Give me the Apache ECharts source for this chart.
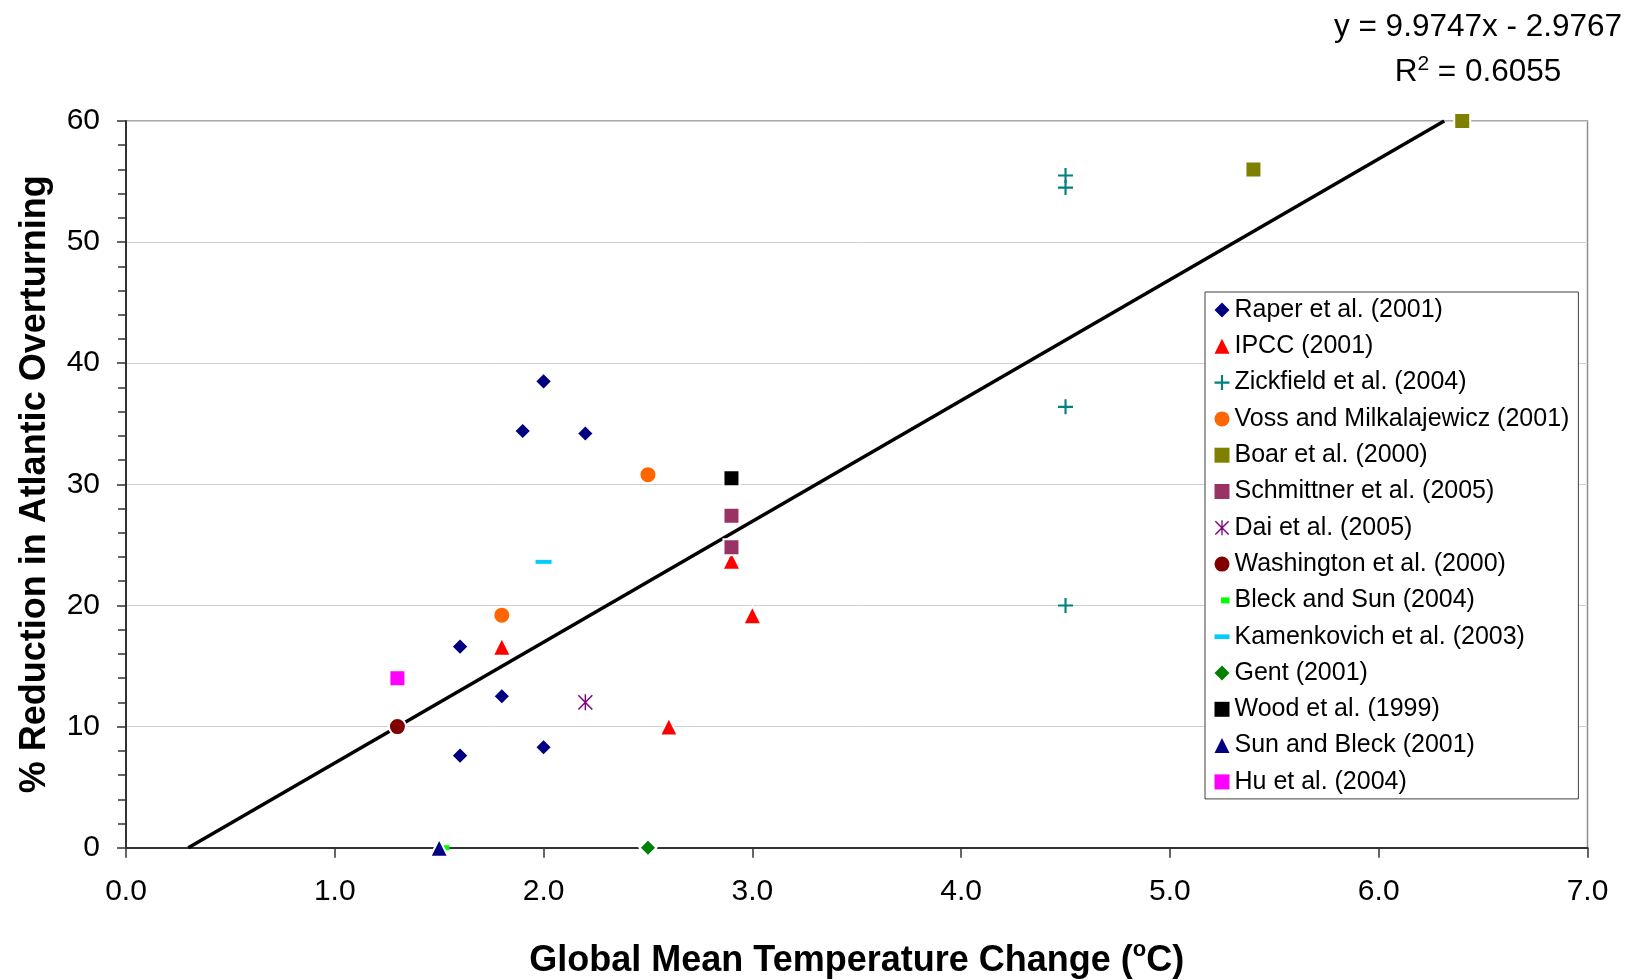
<!DOCTYPE html>
<html>
<head>
<meta charset="utf-8">
<title>Atlantic overturning reduction vs. global warming</title>
<script src="https://cdn.jsdelivr.net/npm/echarts@6/dist/echarts.min.js"></script>
<style>
  html, body { margin: 0; padding: 0; background: #ffffff; }
  #chart { width: 1629px; height: 980px; }
</style>
</head>
<body>
<div id="chart"></div>
<script>
// Axis ranges
const X_MIN = 0, X_MAX = 7, X_STEP = 1;
const Y_MIN = 0, Y_MAX = 60, Y_STEP = 10;

// Study results: [global mean warming (°C), % reduction of overturning]
const raper       = [[1.6, 16.6], [1.9, 34.4], [2.0, 38.5], [2.2, 34.2], [1.8, 12.5], [1.6, 7.6], [2.0, 8.3]];
const ipcc        = [[1.8, 16.6], [2.9, 23.7], [3.0, 19.2], [2.6, 10.0]];
const zickfield   = [[4.5, 55.5], [4.5, 54.5], [4.5, 36.4], [4.5, 20.0]];
const voss        = [[2.5, 30.8], [1.8, 19.2]];
const boar        = [[5.4, 56.0], [6.4, 60.0]];
const schmittner  = [[2.9, 27.4], [2.9, 24.8]];
const dai         = [[2.2, 12.0]];
const washington  = [[1.3, 10.0]];
const bleckSun    = [[1.53, 0]];
const kamenkovich = [[2.0, 23.6]];
const gent        = [[2.5, 0]];
const wood        = [[2.9, 30.5]];
const sunBleck    = [[1.5, 0]];
const hu          = [[1.3, 14.0]];

// Linear fit through all studies
const trendSlope = 9.9747;
const trendIntercept = -2.9767;
const trendR2 = '0.6055';

const FONT = '"Liberation Sans", Arial, Helvetica, sans-serif';

// Marker shapes
const PLUS = 'path://M6,0H8V14H6Z M0,6H14V8H0Z';
const ASTERISK = 'path://M9.2,1H10.8V19H9.2Z M2.6,1.4L18.6,17.4L17.4,18.6L1.4,2.6Z M17.4,1.4L18.6,2.6L2.6,18.6L1.4,17.4Z';
const SHORT_DASH_ICON = 'path://M0,0M16,16M7,4.8H16V11.2H7Z';
const LONG_DASH_ICON = 'path://M0,0M16,16M0,5.5H16V10.5H0Z';

function scatter(name, data, symbol, size, color, halo) {
  return {
    name: name,
    type: 'scatter',
    data: data,
    symbol: symbol,
    symbolSize: size,
    clip: false,
    z: 3,
    itemStyle: halo
      ? { color: color, opacity: 1, borderColor: '#ffffff', borderWidth: 2 }
      : { color: color, opacity: 1, borderWidth: 0 },
    emphasis: { disabled: true }
  };
}

const studySeries = [
  scatter('Raper et al. (2001)',              raper,       'diamond',  17, '#000080', true),
  scatter('IPCC (2001)',                      ipcc,        'triangle', 18, '#ff0000', true),
  scatter('Zickfield et al. (2004)',          zickfield,   PLUS,       15, '#008080', false),
  scatter('Voss and Milkalajewicz (2001)',    voss,        'circle',   17, '#ff6600', true),
  scatter('Boar et al. (2000)',               boar,        'rect',     16, '#808000', true),
  scatter('Schmittner et al. (2005)',         schmittner,  'rect',     16, '#993366', true),
  scatter('Dai et al. (2005)',                dai,         ASTERISK,   [15, 16], '#800080', false),
  scatter('Washington et al. (2000)',         washington,  'circle',   17, '#800000', true),
  scatter('Bleck and Sun (2004)',             bleckSun,    'rect',     [8, 5], '#00ff00', false),
  scatter('Kamenkovich et al. (2003)',        kamenkovich, 'rect',     [16, 4], '#00ccff', false),
  scatter('Gent (2001)',                      gent,        'diamond',  17, '#008000', true),
  scatter('Wood et al. (1999)',               wood,        'rect',     16, '#000000', true),
  scatter('Sun and Bleck (2001)',             sunBleck,    'triangle', 18, '#000080', true),
  scatter('Hu et al. (2004)',                 hu,          'rect',     16, '#ff00ff', true)
];

const legendIcons = {
  'Bleck and Sun (2004)': SHORT_DASH_ICON,
  'Kamenkovich et al. (2003)': LONG_DASH_ICON
};

// Fitted line, clipped to the visible value range
const trendLine = [
  [(Y_MIN - trendIntercept) / trendSlope, Y_MIN],
  [(Y_MAX - trendIntercept) / trendSlope, Y_MAX]
];

const fitText = 'y = ' + trendSlope.toFixed(4) + 'x - ' + Math.abs(trendIntercept).toFixed(4);

const chart = echarts.init(document.getElementById('chart'), null, { renderer: 'canvas' });

chart.setOption({
  animation: false,
  backgroundColor: '#ffffff',
  textStyle: { fontFamily: FONT },
  grid: {
    left: 126, right: 41.5, top: 121, bottom: 132.3,
    show: true,
    borderColor: '#8c8c8c',
    borderWidth: 1.5,
    backgroundColor: 'transparent',
    containLabel: false,
    outerBoundsMode: 'none'
  },
  xAxis: {
    type: 'value',
    min: X_MIN, max: X_MAX, interval: X_STEP,
    name: '{t|Global Mean Temperature Change (}{s|o}{t|C)}',
    nameLocation: 'middle',
    nameGap: 91.5,
    nameTextStyle: {
      rich: {
        // tall main line so the top-aligned "o" sits as a superscript
        t: { fontFamily: FONT, fontSize: 36, fontWeight: 'bold', color: '#000', lineHeight: 43 },
        s: { fontFamily: FONT, fontSize: 22, fontWeight: 'bold', color: '#000', lineHeight: 22, verticalAlign: 'top' }
      }
    },
    axisLine: { show: true, onZero: false, lineStyle: { color: '#333333', width: 2 } },
    axisTick: { show: true, inside: false, length: 10, lineStyle: { color: '#333333', width: 1.5 } },
    axisLabel: {
      show: true, fontFamily: FONT, fontSize: 30, color: '#000000', margin: 29,
      formatter: function (v) { return v.toFixed(1); }
    },
    splitLine: { show: false }
  },
  yAxis: {
    type: 'value',
    min: Y_MIN, max: Y_MAX, interval: Y_STEP,
    name: '% Reduction in Atlantic Overturning',
    nameLocation: 'middle',
    nameGap: 73,
    nameTextStyle: { fontFamily: FONT, fontSize: 36, fontWeight: 'bold', color: '#000000' },
    axisLine: { show: true, onZero: false, lineStyle: { color: '#333333', width: 2 } },
    axisTick: { show: true, inside: false, length: 9, lineStyle: { color: '#333333', width: 1.5 } },
    minorTick: { show: true, splitNumber: 5, length: 8, lineStyle: { color: '#333333', width: 1.5 } },
    axisLabel: { show: true, fontFamily: FONT, fontSize: 30, color: '#000000', margin: 26 },
    splitLine: { show: true, lineStyle: { color: '#d0d0d0', width: 1 } }
  },
  legend: {
    orient: 'vertical',
    left: 1205,
    top: 292,
    padding: [5.5, 9, 4.5, 9.5],
    itemGap: 11.3,
    itemWidth: 15,
    itemHeight: 15,
    symbolKeepAspect: true,
    backgroundColor: '#ffffff',
    borderColor: '#404040',
    borderWidth: 1,
    selectedMode: false,
    itemStyle: { borderWidth: 0, opacity: 1 },
    textStyle: { fontFamily: FONT, fontSize: 25, lineHeight: 25, color: '#000000' },
    data: studySeries.map(function (s) {
      return legendIcons[s.name] ? { name: s.name, icon: legendIcons[s.name] } : { name: s.name };
    })
  },
  graphic: [
    {
      type: 'text',
      x: 1478, y: 27,
      style: {
        text: fitText,
        fontFamily: FONT, fontSize: 31.5, fill: '#000000',
        textAlign: 'center', textVerticalAlign: 'middle'
      }
    },
    {
      type: 'text',
      x: 1478, y: 72,
      style: {
        text: '{r|R}{s|2}{r| = ' + trendR2 + '}',
        textAlign: 'center', textVerticalAlign: 'middle',
        rich: {
          r: { fontFamily: FONT, fontSize: 31.5, fill: '#000000', lineHeight: 36 },
          s: { fontFamily: FONT, fontSize: 21, fill: '#000000', lineHeight: 21, verticalAlign: 'top' }
        }
      }
    }
  ],
  series: [
    {
      name: 'Linear fit',
      type: 'line',
      data: trendLine,
      showSymbol: false,
      symbol: 'none',
      clip: false,
      z: 2,
      lineStyle: { color: '#000000', width: 3.5 },
      emphasis: { disabled: true },
      silent: true
    }
  ].concat(studySeries)
});
</script>
</body>
</html>
